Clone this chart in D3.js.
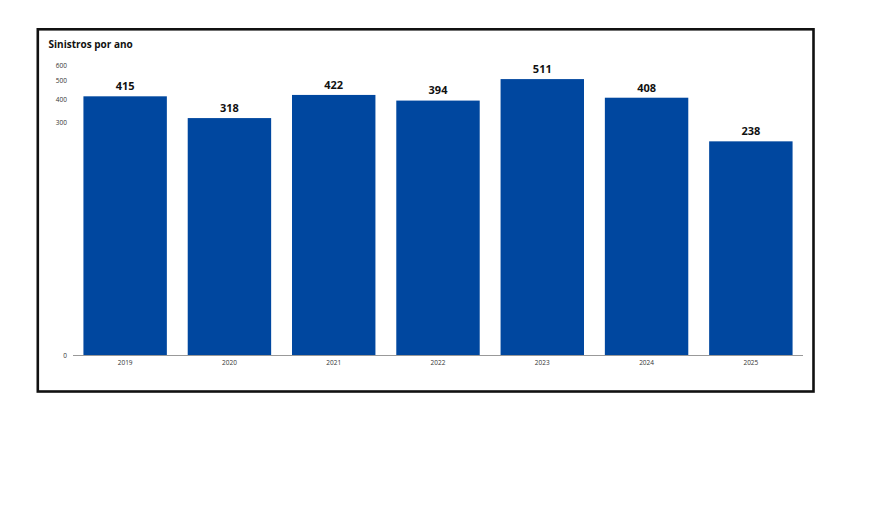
<!DOCTYPE html>
<html>
<head>
<meta charset="utf-8">
<script src="https://cdn.jsdelivr.net/npm/d3@7"></script>
<style>
  html, body { margin: 0; padding: 0; background: #fff; }
  svg { display: block; }
</style>
</head>
<body>
<svg id="chart" width="880" height="530"></svg>
<script>
const title = "Sinistros por ano";
const years = ["2019", "2020", "2021", "2022", "2023", "2024", "2025"];
const values = [415, 318, 422, 394, 511, 408, 238];
const yTicks = [0, 300, 400, 500, 600];

const svg = d3.select("#chart");
const font = "'Open Sans', 'Noto Sans', sans-serif";

// frame
svg.append("rect")
  .attr("x", 37.8).attr("y", 29.3)
  .attr("width", 775.7).attr("height", 362.2)
  .attr("fill", "#fff")
  .attr("stroke", "#111").attr("stroke-width", 2.6);

svg.append("text")
  .attr("x", 48.5).attr("y", 48.3)
  .attr("font-family", font).attr("font-weight", 700)
  .attr("font-size", 10).attr("fill", "#111")
  .text(title);

const x = d3.scaleBand().domain(years).range([73, 803])
  .paddingInner(0.2).paddingOuter(0.1);

const y = d3.scaleSymlog().constant(22).domain([0, 600]).range([355.5, 65.7]);

// bars
svg.append("g").selectAll("rect").data(values).join("rect")
  .attr("x", (d, i) => x(years[i]))
  .attr("y", d => y(d))
  .attr("width", x.bandwidth())
  .attr("height", d => y(0) - y(d))
  .attr("fill", "#00479f");

// value labels
svg.append("g").selectAll("text").data(values).join("text")
  .attr("x", (d, i) => x(years[i]) + x.bandwidth() / 2)
  .attr("y", d => y(d) - 6.2)
  .attr("text-anchor", "middle")
  .attr("font-family", font).attr("font-weight", 700)
  .attr("font-size", 11).attr("fill", "#111")
  .text(d => d);

// x axis
const xAxis = svg.append("g").attr("transform", `translate(0,${y(0)})`)
  .call(d3.axisBottom(x).tickSize(0).tickPadding(5));
xAxis.select(".domain").attr("stroke", "#999").attr("stroke-width", 1.2)
  .attr("d", "M73,0H803");
xAxis.selectAll("text").attr("font-family", font).attr("font-size", 6.5).attr("fill", "#333");

// y axis
const yAxis = svg.append("g").attr("transform", "translate(67,0)")
  .call(d3.axisLeft(y).tickValues(yTicks).tickSize(0).tickPadding(0).tickFormat(d3.format("d")));
yAxis.select(".domain").remove();
yAxis.selectAll("text").attr("font-family", font).attr("font-size", 6.5).attr("fill", "#333");
</script>
</body>
</html>
